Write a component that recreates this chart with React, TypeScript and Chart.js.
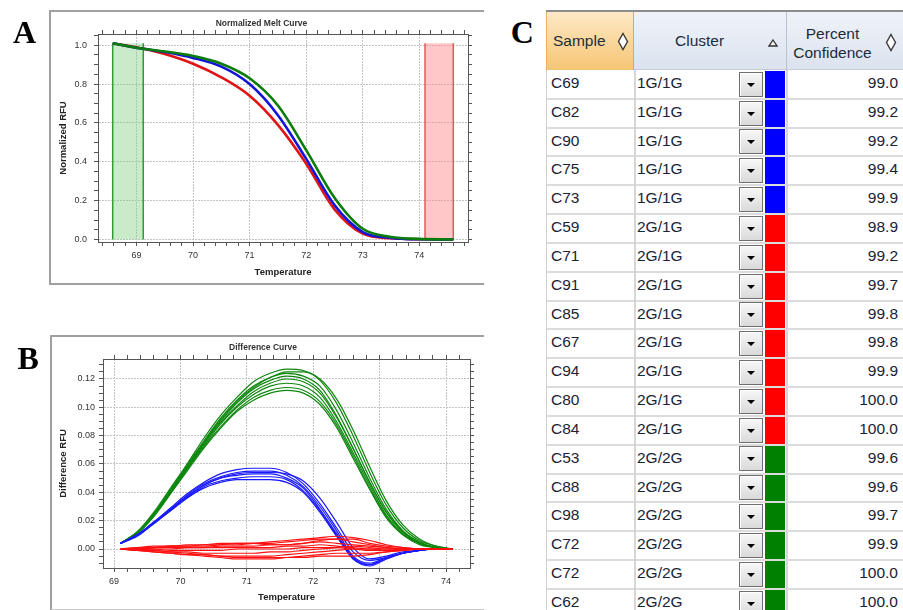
import React, { useEffect, useRef } from 'react';
import { Chart, registerables } from 'chart.js';

Chart.register(...registerables);

const SANS = "'Liberation Sans', Arial, Helvetica, sans-serif";
const SERIF = "'Liberation Serif', 'Times New Roman', serif";

// ---------------- Panel A : Normalized Melt Curve ----------------
const meltTitle = 'Normalized Melt Curve';
const meltYTitle = 'Normalized RFU';
const meltTemps = [68.58, 69.12, 69.5, 70, 70.5, 71, 71.5, 72, 72.5, 73, 73.5, 74, 74.6];
const meltGreen = [1.01, 0.982, 0.968, 0.945, 0.905, 0.83, 0.69, 0.46, 0.215, 0.055, 0.013, 0.003, 0.0];
const meltBlue = [1.01, 0.982, 0.965, 0.935, 0.89, 0.8, 0.64, 0.415, 0.177, 0.038, 0.008, 0.001, 0.0];
const meltRed = [1.01, 0.982, 0.955, 0.905, 0.835, 0.74, 0.59, 0.39, 0.155, 0.03, 0.006, 0.001, 0.0];
const lowRegion = [68.58, 69.12];
const highRegion = [74.1, 74.6];
const regionTop = 1.01;
const meltXRange = [68.32, 74.86];
const meltYRange = [-0.013, 1.058];

// ---------------- Panel B : Difference Curve ----------------
const diffTitle = 'Difference Curve';
const diffYTitle = 'Difference RFU';
const xTitle = 'Temperature';
const diffTemps = [69.1, 69.35, 69.6, 69.85, 70.1, 70.35, 70.6, 70.85, 71.1, 71.35, 71.6, 71.85, 72.1, 72.35, 72.6, 72.85, 73.1, 73.35, 73.6, 73.85, 74.1];

const diffGreen1 = [0.004, 0.012, 0.026, 0.043, 0.060, 0.078, 0.094, 0.107, 0.118, 0.124, 0.127, 0.126, 0.119, 0.103, 0.080, 0.054, 0.031, 0.015, 0.006, 0.002, 0.0];
const diffGreen2 = [0.004, 0.012, 0.025, 0.042, 0.059, 0.076, 0.092, 0.105, 0.115, 0.121, 0.124, 0.122, 0.115, 0.098, 0.075, 0.050, 0.028, 0.013, 0.005, 0.001, 0.0];
const diffGreen3 = [0.004, 0.012, 0.025, 0.041, 0.058, 0.075, 0.090, 0.103, 0.113, 0.119, 0.122, 0.120, 0.112, 0.094, 0.071, 0.047, 0.026, 0.012, 0.005, 0.001, 0.0];
const diffGreen4 = [0.004, 0.011, 0.024, 0.040, 0.057, 0.074, 0.089, 0.101, 0.111, 0.117, 0.120, 0.118, 0.110, 0.093, 0.071, 0.047, 0.026, 0.012, 0.004, 0.001, 0.0];
const diffGreen5 = [0.004, 0.011, 0.024, 0.040, 0.057, 0.073, 0.088, 0.100, 0.109, 0.115, 0.117, 0.115, 0.107, 0.090, 0.068, 0.045, 0.024, 0.011, 0.004, 0.001, 0.0];
const diffGreen6 = [0.004, 0.011, 0.023, 0.039, 0.056, 0.072, 0.086, 0.098, 0.107, 0.112, 0.114, 0.112, 0.104, 0.088, 0.066, 0.043, 0.023, 0.010, 0.004, 0.001, 0.0];
const diffGreen7 = [0.004, 0.011, 0.023, 0.039, 0.055, 0.071, 0.085, 0.097, 0.105, 0.110, 0.112, 0.110, 0.102, 0.086, 0.064, 0.042, 0.022, 0.010, 0.003, 0.001, 0.0];
const diffGreen8 = [0.004, 0.012, 0.025, 0.041, 0.058, 0.075, 0.091, 0.104, 0.114, 0.121, 0.125, 0.125, 0.120, 0.106, 0.084, 0.058, 0.034, 0.017, 0.007, 0.002, 0.0];

const diffBlue1 = [0.004, 0.010, 0.019, 0.029, 0.039, 0.047, 0.053, 0.056, 0.057, 0.057, 0.054, 0.046, 0.032, 0.015, -0.002, -0.008, -0.006, -0.003, -0.001, 0.0, 0.0];
const diffBlue2 = [0.004, 0.010, 0.019, 0.028, 0.038, 0.046, 0.051, 0.054, 0.055, 0.055, 0.052, 0.044, 0.030, 0.013, -0.005, -0.010, -0.006, -0.003, -0.001, 0.0, 0.0];
const diffBlue3 = [0.004, 0.010, 0.018, 0.028, 0.037, 0.045, 0.050, 0.052, 0.053, 0.053, 0.050, 0.043, 0.028, 0.011, -0.006, -0.011, -0.007, -0.003, -0.001, 0.0, 0.0];
const diffBlue4 = [0.004, 0.010, 0.018, 0.027, 0.036, 0.044, 0.048, 0.050, 0.051, 0.051, 0.049, 0.041, 0.027, 0.010, -0.007, -0.012, -0.007, -0.003, -0.001, 0.0, 0.0];
const diffBlue5 = [0.004, 0.009, 0.018, 0.027, 0.036, 0.043, 0.047, 0.049, 0.049, 0.049, 0.047, 0.040, 0.026, 0.009, -0.007, -0.011, -0.006, -0.003, -0.001, 0.0, 0.0];
const diffBlue6 = [0.004, 0.010, 0.019, 0.028, 0.037, 0.045, 0.050, 0.053, 0.054, 0.054, 0.053, 0.048, 0.036, 0.019, 0.001, -0.007, -0.005, -0.002, -0.001, 0.0, 0.0];

const diffRed1 = [0.0, 0.0, 0.001, 0.002, 0.002, 0.003, 0.003, 0.003, 0.004, 0.005, 0.006, 0.007, 0.008, 0.009, 0.008, 0.006, 0.003, 0.001, 0.0, 0.0, 0.0];
const diffRed2 = [0.0, 0.001, 0.001, 0.002, 0.002, 0.002, 0.003, 0.004, 0.004, 0.004, 0.005, 0.006, 0.007, 0.007, 0.005, 0.003, 0.001, 0.0, 0.0, 0.0, 0.0];
const diffRed3 = [0.0, 0.0, 0.001, 0.001, 0.001, 0.001, 0.002, 0.002, 0.002, 0.003, 0.003, 0.004, 0.005, 0.004, 0.003, 0.002, 0.001, 0.0, 0.0, 0.0, 0.0];
const diffRed4 = [0.0, 0.0, 0.0, 0.0, 0.001, 0.001, 0.001, 0.001, 0.001, 0.001, 0.002, 0.002, 0.003, 0.002, 0.001, 0.0, 0.0, 0.0, 0.0, 0.0, 0.0];
const diffRed5 = [0.0, 0.0, 0.0, -0.001, -0.001, -0.001, -0.001, 0.0, 0.0, 0.0, 0.0, 0.001, 0.001, 0.001, 0.0, -0.001, -0.001, 0.0, 0.0, 0.0, 0.0];
const diffRed6 = [0.0, -0.001, -0.001, -0.002, -0.002, -0.003, -0.003, -0.003, -0.003, -0.002, -0.002, -0.001, 0.0, 0.001, 0.002, 0.001, 0.0, 0.0, 0.0, 0.0, 0.0];
const diffRed7 = [0.0, -0.001, -0.002, -0.003, -0.004, -0.004, -0.005, -0.005, -0.005, -0.005, -0.004, -0.003, -0.002, -0.001, 0.0, 0.0, -0.001, -0.001, 0.0, 0.0, 0.0];
const diffRed8 = [0.0, -0.001, -0.002, -0.003, -0.004, -0.005, -0.006, -0.007, -0.007, -0.007, -0.006, -0.005, -0.004, -0.003, -0.003, -0.003, -0.002, -0.001, 0.0, 0.0, 0.0];
const diffRed9 = [0.0, 0.0, -0.001, -0.002, -0.003, -0.004, -0.005, -0.006, -0.006, -0.006, -0.006, -0.006, -0.005, -0.005, -0.005, -0.004, -0.002, -0.001, 0.0, 0.0, 0.0];
const diffRed10 = [0.0, 0.001, 0.002, 0.002, 0.003, 0.003, 0.004, 0.004, 0.004, 0.003, 0.003, 0.004, 0.006, 0.007, 0.007, 0.004, 0.002, 0.001, 0.0, 0.0, 0.0];

const diffGreenCurves = [diffGreen1, diffGreen2, diffGreen3, diffGreen4, diffGreen5, diffGreen6, diffGreen7, diffGreen8];
const diffBlueCurves = [diffBlue1, diffBlue2, diffBlue3, diffBlue4, diffBlue5, diffBlue6];
const diffRedCurves = [diffRed1, diffRed2, diffRed3, diffRed4, diffRed5, diffRed6, diffRed7, diffRed8, diffRed9, diffRed10];
const diffXRange = [68.834, 74.36];
const diffYRange = [-0.0134, 0.1341];

// ---------------- Panel C : cluster table ----------------
const sampleIds = ['C69', 'C82', 'C90', 'C75', 'C73', 'C59', 'C71', 'C91', 'C85', 'C67', 'C94', 'C80', 'C84', 'C53', 'C88', 'C98', 'C72', 'C72', 'C62'];
const clusterNames = ['1G/1G', '1G/1G', '1G/1G', '1G/1G', '1G/1G', '2G/1G', '2G/1G', '2G/1G', '2G/1G', '2G/1G', '2G/1G', '2G/1G', '2G/1G', '2G/2G', '2G/2G', '2G/2G', '2G/2G', '2G/2G', '2G/2G'];
const confidences = ['99.0', '99.2', '99.2', '99.4', '99.9', '98.9', '99.2', '99.7', '99.8', '99.8', '99.9', '100.0', '100.0', '99.6', '99.6', '99.7', '99.9', '100.0', '100.0'];
const clusterColors: Record<string, string> = { '1G/1G': '#0000ff', '2G/1G': '#ff0000', '2G/2G': '#008000' };

// ---------------- helpers ----------------
const TICK = '#555';
const GRID = '#c4c4c4';
const TEXT = '#333';

function stepTicks(min: number, max: number, step: number) {
  const out: { value: number }[] = [];
  const a = Math.ceil(min / step - 1e-9);
  const b = Math.floor(max / step + 1e-9);
  for (let i = a; i <= b; i++) out.push({ value: Math.round(i * step * 1e6) / 1e6 });
  return out;
}
const onStep = (v: number, step: number) => Math.abs(v / step - Math.round(v / step)) < 1e-6;

type AxisSpec = {
  range: number[];
  minor: number;
  major: number;
  decimals: number;
  size: number;
  tickPad: number;
  title: string;
  titlePad: number;
  horizontal: boolean;
};

function mainAxis(s: AxisSpec) {
  const [min, max] = s.range;
  return {
    type: 'linear',
    position: s.horizontal ? 'bottom' : 'left',
    min,
    max,
    afterBuildTicks: (sc: any) => {
      sc.ticks = stepTicks(min, max, s.minor);
    },
    afterFit: (sc: any) => {
      if (s.horizontal) sc.height = s.size;
      else sc.width = s.size;
    },
    ticks: {
      autoSkip: false,
      maxRotation: 0,
      minRotation: 0,
      padding: s.tickPad,
      color: TEXT,
      font: { family: SANS, size: 9 },
      callback: (v: any) => (onStep(Number(v), s.major) ? Number(v).toFixed(s.decimals) : ''),
    },
    grid: {
      color: (c: any) => (c.tick && onStep(c.tick.value, s.major) ? GRID : 'rgba(0,0,0,0)'),
      lineWidth: 1,
      tickColor: TICK,
      tickLength: 4,
    },
    border: { display: true, color: TICK, width: 1, dash: [2, 1] },
    title: {
      display: true,
      text: s.title,
      color: '#222',
      font: { family: SANS, size: 9.5, weight: 'bold' },
      padding: s.horizontal ? { top: 0, bottom: s.titlePad } : { top: s.titlePad, bottom: 0 },
    },
  };
}

function mirrorAxis(s: AxisSpec) {
  const [min, max] = s.range;
  return {
    type: 'linear',
    position: s.horizontal ? 'top' : 'right',
    min,
    max,
    afterBuildTicks: (sc: any) => {
      sc.ticks = stepTicks(min, max, s.minor);
    },
    afterFit: (sc: any) => {
      if (s.horizontal) sc.height = 6;
      else sc.width = 6;
    },
    ticks: { display: false },
    grid: { drawOnChartArea: false, tickColor: TICK, tickLength: 4 },
    border: { display: true, color: TICK, width: 1 },
  };
}

function curve(label: string, xs: number[], ys: number[], color: string, width: number) {
  return {
    label,
    data: xs.map((x, i) => ({ x, y: ys[i] })),
    borderColor: color,
    backgroundColor: color,
    borderWidth: width,
    pointRadius: 0,
    cubicInterpolationMode: 'monotone',
    fill: false,
    xAxisID: 'x',
    yAxisID: 'y',
  };
}

function region(label: string, span: number[], fillColor: string, lineColor: string) {
  return {
    label,
    data: [
      { x: span[0], y: 0 },
      { x: span[0], y: regionTop },
      { x: span[1], y: regionTop },
      { x: span[1], y: 0 },
    ],
    borderColor: lineColor,
    backgroundColor: fillColor,
    borderWidth: 1.5,
    pointRadius: 0,
    tension: 0,
    fill: 'origin',
    segment: { borderColor: (c: any) => (c.p0DataIndex === 1 ? 'rgba(0,0,0,0)' : undefined) },
    xAxisID: 'x',
    yAxisID: 'y',
  };
}

function chartTitle(text: string, padTop: number, padBottom: number) {
  return {
    display: true,
    text,
    color: '#333',
    font: { family: SANS, size: 8.5, weight: 'bold', lineHeight: 1 },
    padding: { top: padTop, bottom: padBottom },
  };
}

function ChartCanvas({ makeConfig, left, top, width, height }: any) {
  const ref = useRef<HTMLCanvasElement>(null);
  useEffect(() => {
    const chart = new Chart(ref.current as HTMLCanvasElement, makeConfig());
    return () => chart.destroy();
  }, []);
  return (
    <canvas
      ref={ref}
      width={width}
      height={height}
      style={{ position: 'absolute', left, top, width, height }}
    />
  );
}

function meltConfig(): any {
  const xs: AxisSpec = { range: meltXRange, minor: 0.2, major: 1, decimals: 0, size: 44, tickPad: 4, title: xTitle, titlePad: 8.3, horizontal: true };
  const ys: AxisSpec = { range: meltYRange, minor: 0.05, major: 0.2, decimals: 1, size: 49, tickPad: 7, title: meltYTitle, titlePad: 8.3, horizontal: false };
  return {
    type: 'line',
    data: {
      datasets: [
        curve('2G/2G', meltTemps, meltGreen, '#0b7d0b', 2.6),
        curve('1G/1G', meltTemps, meltBlue, '#1414d8', 2.6),
        curve('2G/1G', meltTemps, meltRed, '#e01414', 2.6),
        region('Pre-melt region', lowRegion, 'rgba(120,205,120,0.4)', '#2e9e2e'),
        region('Post-melt region', highRegion, 'rgba(255,130,130,0.45)', '#e05a5a'),
      ],
    },
    options: {
      responsive: false,
      animation: false,
      devicePixelRatio: 1,
      events: [],
      layout: { padding: { left: 0, right: 11, top: 0, bottom: 0 } },
      plugins: {
        legend: { display: false },
        tooltip: { enabled: false },
        title: chartTitle(meltTitle, 9, 0.5),
      },
      scales: { x: mainAxis(xs), x2: mirrorAxis(xs), y: mainAxis(ys), y2: mirrorAxis(ys) },
    },
  };
}

function diffConfig(): any {
  const xs: AxisSpec = { range: diffXRange, minor: 0.2, major: 1, decimals: 0, size: 42, tickPad: 4, title: xTitle, titlePad: 7.3, horizontal: true };
  const ys: AxisSpec = { range: diffYRange, minor: 0.005, major: 0.02, decimals: 2, size: 53, tickPad: 4, title: diffYTitle, titlePad: 7.3, horizontal: false };
  const datasets = [
    ...diffRedCurves.map((c, i) => curve('2G/1G ' + (i + 1), diffTemps, c, '#ff1010', 1.2)),
    ...diffBlueCurves.map((c, i) => curve('1G/1G ' + (i + 1), diffTemps, c, '#1a1aff', 1.2)),
    ...diffGreenCurves.map((c, i) => curve('2G/2G ' + (i + 1), diffTemps, c, '#0e870e', 1.2)),
  ];
  return {
    type: 'line',
    data: { datasets },
    options: {
      responsive: false,
      animation: false,
      devicePixelRatio: 1,
      events: [],
      layout: { padding: { left: 0, right: 10, top: 0, bottom: 0 } },
      plugins: {
        legend: { display: false },
        tooltip: { enabled: false },
        title: chartTitle(diffTitle, 8.75, 0.75),
      },
      scales: { x: mainAxis(xs), x2: mirrorAxis(xs), y: mainAxis(ys), y2: mirrorAxis(ys) },
    },
  };
}

// ---------------- table ----------------
const TLEFT = 546;
const TRIGHT = 903;
const COL1 = 634;
const COL2 = 786;
const HEAD_TOP = 12;
const HEAD_BOTTOM = 70;
const PITCH = 28.83;
const TXT = '#1b2233';

function Diamond({ cx, cy }: { cx: number; cy: number }) {
  return (
    <svg width={12} height={19} style={{ position: 'absolute', left: cx - 6, top: cy - 9.5 }}>
      <polygon points="6,1.5 10.5,9.5 6,17.5 1.5,9.5" fill="#fff" stroke="#3a3a3a" strokeWidth={1.4} />
    </svg>
  );
}

function ClusterTable() {
  const headFont = { fontFamily: SANS, fontSize: 15.5, color: '#1e2b3c' };
  const cellFont = { fontFamily: SANS, fontSize: 15.5, color: TXT };
  return (
    <div>
      {/* top rule */}
      <div style={{ position: 'absolute', left: TLEFT, top: 10, width: TRIGHT - TLEFT, height: 2, background: '#8c8c8c' }} />
      {/* header cells */}
      <div
        style={{
          position: 'absolute', left: TLEFT, top: HEAD_TOP, width: COL1 - TLEFT, height: HEAD_BOTTOM - HEAD_TOP,
          background: 'linear-gradient(#fde9c6, #f6c574)', boxSizing: 'border-box',
          borderLeft: '1px solid #f0b060', borderRight: '1px solid #eda24c',
        }}
      />
      <div
        style={{
          position: 'absolute', left: COL1, top: HEAD_TOP, width: TRIGHT - COL1, height: HEAD_BOTTOM - HEAD_TOP,
          background: 'linear-gradient(#eff3f9, #dce3ee)', boxSizing: 'border-box', borderBottom: '1px solid #c4cedb',
        }}
      />
      <div style={{ position: 'absolute', left: COL2, top: HEAD_TOP, width: 1, height: HEAD_BOTTOM - HEAD_TOP, background: '#b7c3d3' }} />
      <div style={{ position: 'absolute', left: 553, top: 31, lineHeight: '20px', ...headFont }}>Sample</div>
      <Diamond cx={623} cy={41.5} />
      <div style={{ position: 'absolute', left: 675, top: 31, lineHeight: '20px', ...headFont }}>Cluster</div>
      <svg width={10} height={8} style={{ position: 'absolute', left: 768, top: 39 }}>
        <polygon points="5,1 9,7 1,7" fill="#f4f4f4" stroke="#333" strokeWidth={1.3} />
      </svg>
      <div style={{ position: 'absolute', left: 786, top: 23.5, width: 93, textAlign: 'center', lineHeight: '19px', ...headFont }}>
        Percent
        <br />
        Confidence
      </div>
      <Diamond cx={891} cy={42.5} />

      {/* body rows */}
      {sampleIds.map((id, i) => {
        const y0 = HEAD_BOTTOM + i * PITCH;
        const name = clusterNames[i];
        return (
          <div key={i}>
            <div style={{ position: 'absolute', left: 551, top: y0 - 1, height: PITCH, lineHeight: PITCH + 'px', ...cellFont }}>{id}</div>
            <div style={{ position: 'absolute', left: 637, top: y0 - 1, height: PITCH, lineHeight: PITCH + 'px', ...cellFont }}>{name}</div>
            <div
              style={{
                position: 'absolute', left: 739, top: y0 + 1.7, width: 23.5, height: 25, boxSizing: 'border-box',
                border: '1px solid #6e6e6e', background: 'linear-gradient(#f7f7f7, #dadada)',
                boxShadow: 'inset 1px 1px 0 #ffffff',
              }}
            >
              <div
                style={{
                  position: 'absolute', left: 6.5, top: 10, width: 0, height: 0,
                  borderLeft: '4.5px solid transparent', borderRight: '4.5px solid transparent', borderTop: '4.5px solid #000',
                }}
              />
            </div>
            <div style={{ position: 'absolute', left: 765, top: y0 + 1, width: 20, height: PITCH - 2, background: clusterColors[name] }} />
            <div style={{ position: 'absolute', left: COL2, top: y0 - 1, width: 898 - COL2, height: PITCH, lineHeight: PITCH + 'px', textAlign: 'right', ...cellFont }}>
              {confidences[i]}
            </div>
            <div style={{ position: 'absolute', left: TLEFT, top: y0 + PITCH - 1, width: TRIGHT - TLEFT, height: 2, background: '#dcdcdc' }} />
          </div>
        );
      })}
      {/* column rules */}
      <div style={{ position: 'absolute', left: TLEFT, top: HEAD_BOTTOM, width: 1, height: 610 - HEAD_BOTTOM, background: '#cfcfcf' }} />
      <div style={{ position: 'absolute', left: COL1, top: HEAD_BOTTOM, width: 1.5, height: 610 - HEAD_BOTTOM, background: '#d6d6d6' }} />
      <div style={{ position: 'absolute', left: COL2, top: HEAD_BOTTOM, width: 1.5, height: 610 - HEAD_BOTTOM, background: '#d6d6d6' }} />
    </div>
  );
}

function PanelLabel({ text, left, top }: { text: string; left: number; top: number }) {
  return (
    <div style={{ position: 'absolute', left, top, fontFamily: SERIF, fontWeight: 'bold', fontSize: 32, lineHeight: '32px', color: '#000' }}>
      {text}
    </div>
  );
}

export default function App() {
  const frame = '#a0a0a0';
  return (
    <div style={{ position: 'absolute', left: 0, top: 0, width: 903, height: 610, background: '#fff', overflow: 'hidden' }}>
      <ChartCanvas makeConfig={meltConfig} left={49} top={10} width={436} height={276} />
      <ChartCanvas makeConfig={diffConfig} left={50} top={335} width={436} height={275} />
      {/* panel frames */}
      <div style={{ position: 'absolute', left: 49, top: 10, width: 435, height: 275, boxSizing: 'border-box', borderLeft: `2px solid ${frame}`, borderTop: `2px solid ${frame}`, borderBottom: `2px solid ${frame}` }} />
      <div style={{ position: 'absolute', left: 50, top: 335, width: 434, height: 275, boxSizing: 'border-box', borderLeft: `2px solid ${frame}`, borderTop: `2px solid ${frame}`, borderBottom: `1px solid #c8c8c8` }} />
      <ClusterTable />
      <PanelLabel text="A" left={13} top={16.4} />
      <PanelLabel text="B" left={17.6} top={342.4} />
      <PanelLabel text="C" left={510.7} top={16.1} />
    </div>
  );
}
